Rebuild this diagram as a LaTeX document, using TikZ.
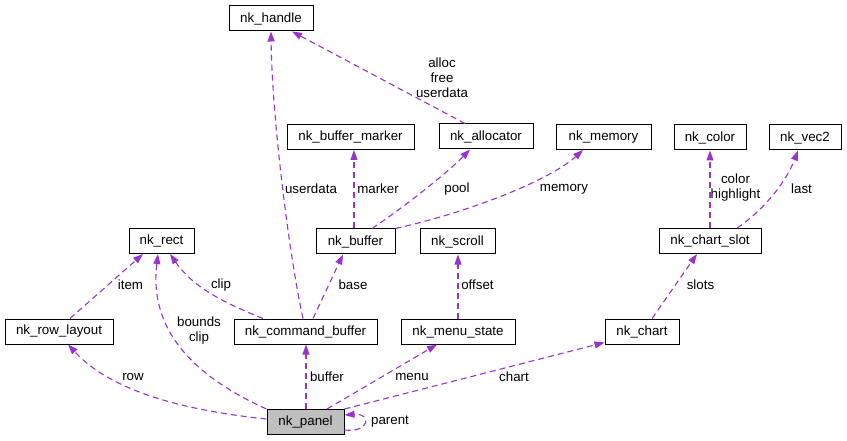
\documentclass[tikz,border=0pt]{standalone}
\usepackage{fontspec}
\setmainfont{Liberation Sans}
\usetikzlibrary{arrows.meta,calc}
\definecolor{edgec}{HTML}{9A32CD}
\definecolor{panelfill}{HTML}{BFBFBF}
\begin{document}
\begin{tikzpicture}[x=1pt,y=-1pt,
  box/.style={draw=black, line width=1pt, minimum height=25pt, inner sep=0pt,
              font=\fontsize{13.33}{15}\selectfont, anchor=center, fill=white},
  lbl/.style={font=\fontsize{13.33}{15}\selectfont, inner sep=0pt, align=center, anchor=center},
  edge/.style={draw=edgec, line width=1.1pt, dash pattern=on 6pt off 4pt,
               -{Triangle[length=10pt,width=7pt,fill=edgec]}},
]
\useasboundingbox (0,0) rectangle (847,441);

% nodes
\node[box, minimum width=84pt]  (handle) at (271,18.5) {nk\_handle};
\node[box, minimum width=127pt] (marker) at (350.5,137) {nk\_buffer\_marker};
\node[box, minimum width=94pt]  (alloc)  at (486,136.5) {nk\_allocator};
\node[box, minimum width=95pt]  (memory) at (603.5,137) {nk\_memory};
\node[box, minimum width=72pt]  (color)  at (710,137.5) {nk\_color};
\node[box, minimum width=72pt]  (vec2)   at (805,137.5) {nk\_vec2};
\node[box, minimum width=65pt]  (rect)   at (161.5,241) {nk\_rect};
\node[box, minimum width=79pt]  (buffer) at (355.5,241.5) {nk\_buffer};
\node[box, minimum width=75pt]  (scroll) at (457.5,241.5) {nk\_scroll};
\node[box, minimum width=102pt] (slot)   at (710,241) {nk\_chart\_slot};
\node[box, minimum width=108pt] (rowl)   at (59,331.5) {nk\_row\_layout};
\node[box, minimum width=143pt] (cmdbuf) at (305.5,331.5) {nk\_command\_buffer};
\node[box, minimum width=114pt] (menu)   at (458,331.5) {nk\_menu\_state};
\node[box, minimum width=74pt]  (chart)  at (642,331.5) {nk\_chart};
\node[box, minimum width=77pt, fill=panelfill] (panel) at (305.5,422) {nk\_panel};

% edges
\draw[edge] ($(cmdbuf.north)+(-2.5,0)$) .. controls (290,260) and (272,120) .. (handle.south);
\draw[edge] ($(alloc.north)+(-21,0)$) -- ($(handle.south)+(21,0)$);
\draw[edge] ($(buffer.north)+(-1.5,0)$) -- ($(marker.south)+(3.5,0)$);
\draw[edge] ($(buffer.north)+(16.5,0)$) .. controls (400,210) and (445,175) .. ($(alloc.south)+(-16,0)$);
\draw[edge] (buffer.north east) .. controls (470,212) and (550,180) .. ($(memory.south)+(-20.5,0)$);
\draw[edge] ($(cmdbuf.north)+(7.5,0)$) -- ($(buffer.south)+(-12.5,0)$);
\draw[edge] ($(cmdbuf.north)+(-42.5,0)$) .. controls (230,305) and (195,290) .. ($(rect.south)+(8.5,0)$);
\draw[edge] ($(rowl.north)+(11,0)$) -- ($(rect.south)+(-18.5,0)$);
\draw[edge] (panel.north west) .. controls (180,370) and (150,320) .. ($(rect.south)+(-3.5,0)$);
\draw[edge] ($(panel.west)+(0,-3)$) .. controls (180,410) and (110,390) .. ($(rowl.south)+(9,0)$);
\draw[edge] ($(panel.north)+(0.5,0)$) -- ($(cmdbuf.south)+(0.5,0)$);
\draw[edge] ($(panel.north)+(21.5,0)$) -- ($(menu.south)+(-21,0)$);
\draw[edge] (panel.north east) -- ($(chart.south west)+(0,-2)$);
\draw[edge] ($(panel.east)+(0,8)$) .. controls (370,433) and (372,413) .. ($(panel.east)+(0,-7)$);
\draw[edge] (menu.north) -- ($(scroll.south)+(0.5,0)$);
\draw[edge] (slot.north) -- (color.south);
\draw[edge] ($(chart.north)+(10,0)$) -- ($(slot.south)+(-13,0)$);
\draw[edge] ($(slot.north)+(27,0)$) .. controls (760,213) and (785,185) .. ($(vec2.south)+(-7,0)$);

% labels
\node[lbl] (l1)  at (311,189) {userdata};
\node[lbl] (l2)  at (442,77.5) {alloc\\free\\userdata};
\node[lbl] (l3)  at (378,189) {marker};
\node[lbl] (l4)  at (457,189) {pool};
\node[lbl] (l5)  at (564,189) {memory};
\node[lbl] (l6)  at (353,285) {base};
\node[lbl] (l7)  at (221,285) {clip};
\node[lbl] (l8)  at (130.5,285) {item};
\node[lbl] (l9)  at (199,331) {bounds\\clip};
\node[lbl] (l10) at (133,377) {row};
\node[lbl] (l11) at (327,377) {buffer};
\node[lbl] (l12) at (412,377) {menu};
\node[lbl] (l13) at (514,377) {chart};
\node[lbl] (l14) at (390,422) {parent};
\node[lbl] (l15) at (477.5,285) {offset};
\node[lbl] (l16) at (700.5,285) {slots};
\node[lbl] (l17) at (735.5,188) {color\\highlight};
\node[lbl] (l18) at (801.5,189) {last};
\end{tikzpicture}
\end{document}
